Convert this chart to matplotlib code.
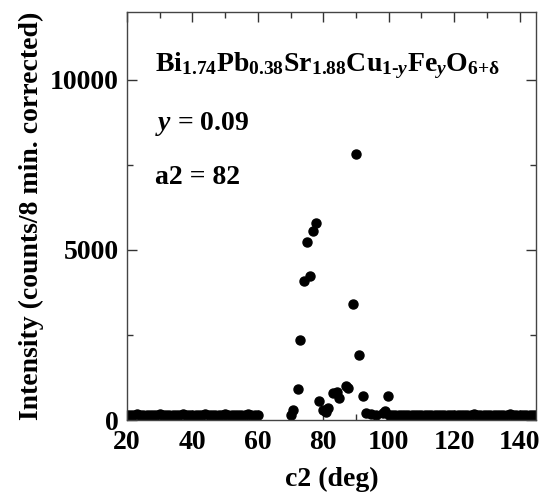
import numpy as np
import matplotlib
matplotlib.use("Agg")
import matplotlib.pyplot as plt
from matplotlib.ticker import MultipleLocator

plt.rcParams['font.family'] = ['Liberation Serif', 'DejaVu Serif']
plt.rcParams['font.weight'] = 'bold'
plt.rcParams['axes.labelweight'] = 'bold'
plt.rcParams['mathtext.fontset'] = 'custom'
plt.rcParams['mathtext.rm'] = 'Liberation Serif:bold'
plt.rcParams['mathtext.it'] = 'Liberation Serif:bold:italic'
plt.rcParams['mathtext.bf'] = 'Liberation Serif:bold'

# background scan, low angle side (1 deg steps)
bg_left_x = np.arange(20, 61, 1)
bg_left_y = [150, 160, 140, 170, 150, 145, 160, 150, 140, 155,
             165, 150, 145, 150, 160, 140, 150, 170, 155, 145,
             150, 160, 150, 140, 165, 150, 145, 155, 150, 160,
             175, 150, 140, 150, 160, 150, 145, 170, 150, 140,
             150]

# peak region
peak_x = [70.2, 70.7, 72.2, 72.9, 74.0, 75.0, 76.0, 76.8, 77.8, 78.8,
          79.8, 80.7, 81.4, 82.9, 84.1, 84.9, 87.0, 87.5, 89.0, 90.0,
          90.8, 92.1, 93.1, 94.6, 96.2, 98.2, 98.7, 99.7]
peak_y = [147, 294, 912, 2353, 4088, 5226, 4244, 5568, 5803, 568,
          294, 244, 344, 803, 833, 638, 1000, 932, 3412, 7824,
          1921, 706, 215, 176, 147, 215, 274, 706]

# background scan, high angle side
bg_right_x = np.arange(100, 146, 1)
bg_right_y = [160, 150, 145, 150, 140, 150, 155, 150, 145, 140,
              150, 150, 145, 155, 150, 160, 145, 150, 150, 140,
              155, 150, 145, 160, 150, 150, 165, 145, 150, 155,
              150, 140, 150, 160, 150, 145, 150, 170, 150, 145,
              150, 155, 150, 160, 150, 145]

fig = plt.figure(figsize=(5.47, 4.93), dpi=100)
ax = fig.add_axes([0.232, 0.148, 0.748, 0.828])

for xs, ys in [(bg_left_x, bg_left_y), (peak_x, peak_y), (bg_right_x, bg_right_y)]:
    ax.plot(xs, ys, 'o', color='k', ms=6.5, ls='none')

ax.set_xlim(20, 145)
ax.set_ylim(0, 12000)
ax.xaxis.set_major_locator(MultipleLocator(20))
ax.xaxis.set_minor_locator(MultipleLocator(10))
ax.yaxis.set_major_locator(MultipleLocator(5000))
ax.yaxis.set_minor_locator(MultipleLocator(2500))
ax.tick_params(which='both', direction='in', top=True, right=True,
               labelsize=20, color='#333333')
ax.tick_params(which='major', length=7, width=1, pad=6)
ax.tick_params(axis='x', which='major', pad=7)
ax.tick_params(which='minor', length=4, width=1)
for s in ax.spines.values():
    s.set_color('#444444')
    s.set_linewidth(1)

ax.set_xlabel('c2 (deg)', fontsize=20, labelpad=9)
ax.set_ylabel('Intensity (counts/8 min. corrected)', fontsize=20, labelpad=4)

ax.text(0.068, 0.856,
        r'$\mathrm{Bi}_{1.74}\mathrm{Pb}_{0.38}\mathrm{Sr}_{1.88}\mathrm{Cu}_{1\text{-}y}'
        r'\mathrm{Fe}_{y}\mathrm{O}_{6\text{+}\mathrm{\delta}}$',
        transform=ax.transAxes, fontsize=20, ha='left', va='baseline')
ax.text(0.068, 0.711, r'$y$ = 0.09', transform=ax.transAxes,
        fontsize=20, ha='left', va='baseline')
ax.text(0.068, 0.578, 'a2 = 82', transform=ax.transAxes,
        fontsize=20, ha='left', va='baseline')

fig.savefig('out.png', dpi=100)
